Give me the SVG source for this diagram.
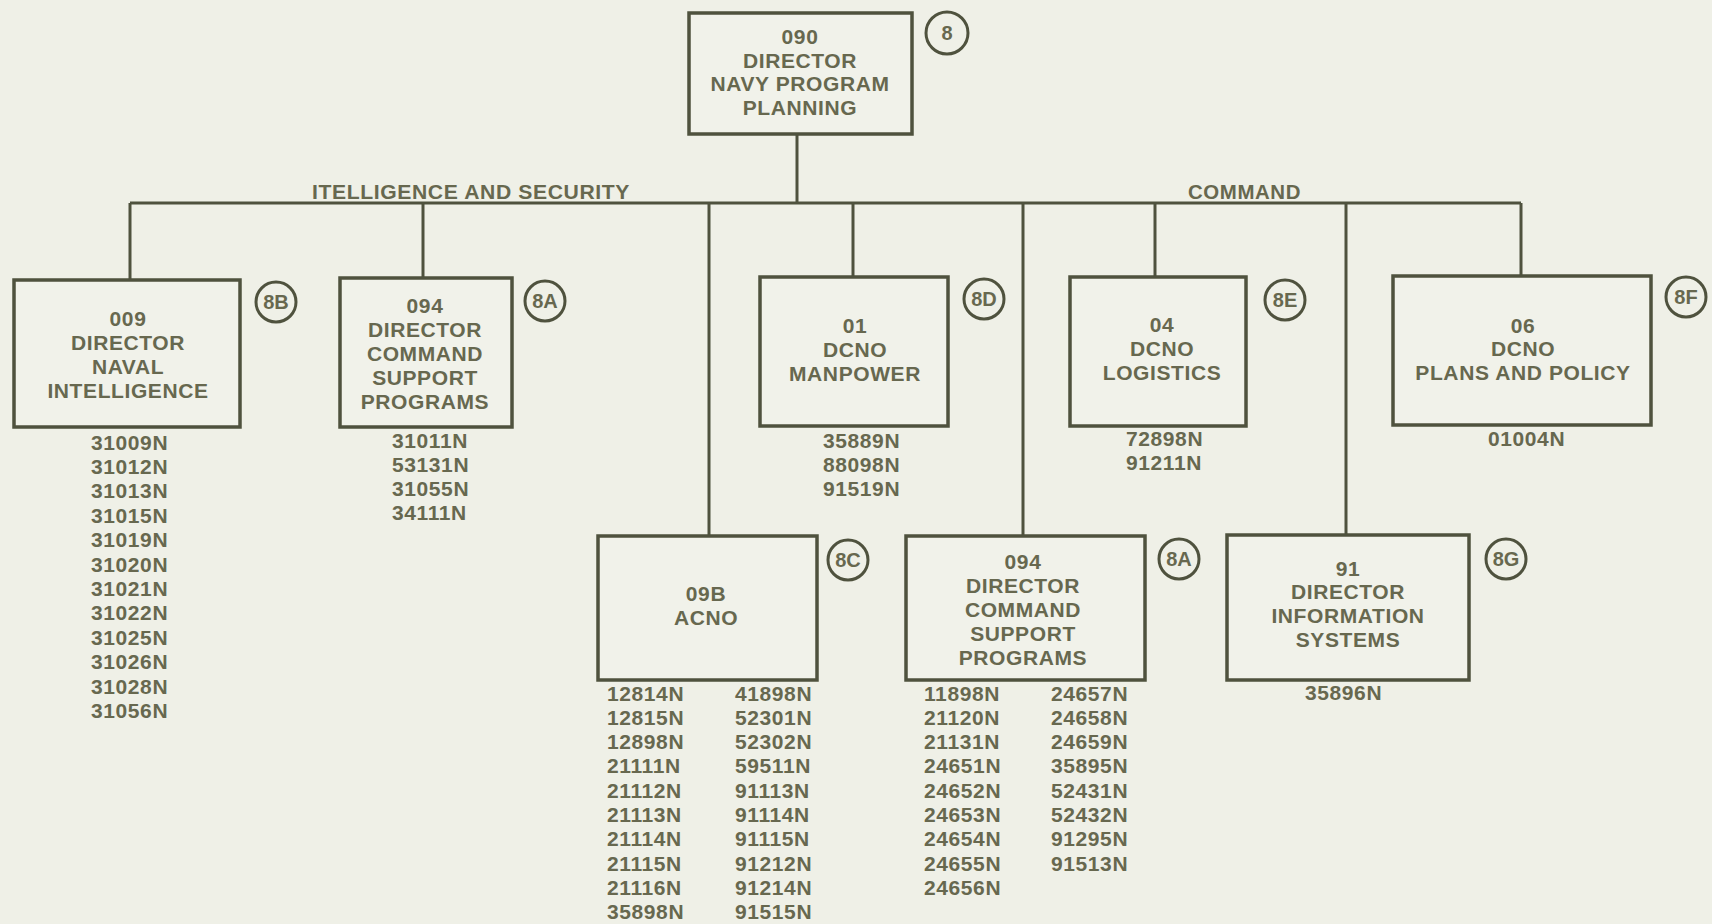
<svg xmlns="http://www.w3.org/2000/svg" width="1712" height="924" viewBox="0 0 1712 924">
<style>
.bg{fill:#eff0e7}
.box{fill:#f1f2ea;stroke:#4f523e;stroke-width:3.5}
.circ{fill:none;stroke:#4f523e;stroke-width:3}
.ln{stroke:#4f523e;stroke-width:3;fill:none}
text{font-family:"Liberation Sans",Arial,sans-serif;font-weight:bold;font-size:21px;fill:#67684f;letter-spacing:0.6px}
.c{text-anchor:middle}
.cl{font-size:20px;letter-spacing:0}
</style>
<rect class="bg" x="0" y="0" width="1712" height="924"/>
<g id="connectors">
<line class="ln" x1="797" y1="134" x2="797" y2="203"/>
<line class="ln" x1="130" y1="203" x2="1521" y2="203"/>
<line class="ln" x1="130" y1="203" x2="130" y2="280"/>
<line class="ln" x1="423" y1="203" x2="423" y2="278"/>
<line class="ln" x1="709" y1="203" x2="709" y2="536"/>
<line class="ln" x1="853" y1="203" x2="853" y2="277"/>
<line class="ln" x1="1023" y1="203" x2="1023" y2="536"/>
<line class="ln" x1="1155" y1="203" x2="1155" y2="277"/>
<line class="ln" x1="1346" y1="203" x2="1346" y2="535"/>
<line class="ln" x1="1521" y1="203" x2="1521" y2="276"/>
<text x="312" y="199" textLength="318" lengthAdjust="spacingAndGlyphs">ITELLIGENCE AND SECURITY</text>
<text x="1188" y="199" textLength="113" lengthAdjust="spacingAndGlyphs">COMMAND</text>
</g>
<g id="n090">
<rect class="box" x="689" y="13" width="223" height="121"/>
<text class="c" x="800" y="44">090</text>
<text class="c" x="800" y="67.5">DIRECTOR</text>
<text class="c" x="800" y="91">NAVY PROGRAM</text>
<text class="c" x="800" y="114.5">PLANNING</text>
<circle class="circ" cx="947" cy="33" r="21"/>
<text class="c cl" x="947" y="40">8</text>
</g>
<g id="n009">
<rect class="box" x="14" y="280" width="226" height="147"/>
<text class="c" x="128" y="325.5">009</text>
<text class="c" x="128" y="349.5">DIRECTOR</text>
<text class="c" x="128" y="373.5">NAVAL</text>
<text class="c" x="128" y="397.5">INTELLIGENCE</text>
<circle class="circ" cx="276" cy="302" r="20"/>
<text class="c cl" x="276" y="309">8B</text>
<text x="91" y="449.5">31009N</text>
<text x="91" y="473.9">31012N</text>
<text x="91" y="498.3">31013N</text>
<text x="91" y="522.7">31015N</text>
<text x="91" y="547.1">31019N</text>
<text x="91" y="571.5">31020N</text>
<text x="91" y="595.9">31021N</text>
<text x="91" y="620.3">31022N</text>
<text x="91" y="644.7">31025N</text>
<text x="91" y="669.1">31026N</text>
<text x="91" y="693.5">31028N</text>
<text x="91" y="717.9">31056N</text>
</g>
<g id="n094a">
<rect class="box" x="340" y="278" width="172" height="149"/>
<text class="c" x="425" y="312.5">094</text>
<text class="c" x="425" y="336.5">DIRECTOR</text>
<text class="c" x="425" y="360.5">COMMAND</text>
<text class="c" x="425" y="384.5">SUPPORT</text>
<text class="c" x="425" y="408.5">PROGRAMS</text>
<circle class="circ" cx="545" cy="301" r="20"/>
<text class="c cl" x="545" y="308">8A</text>
<text x="392" y="447.5">31011N</text>
<text x="392" y="471.8">53131N</text>
<text x="392" y="496.1">31055N</text>
<text x="392" y="520.4">34111N</text>
</g>
<g id="n01">
<rect class="box" x="760" y="277" width="188" height="149"/>
<text class="c" x="855" y="332.5">01</text>
<text class="c" x="855" y="356.5">DCNO</text>
<text class="c" x="855" y="380.5">MANPOWER</text>
<circle class="circ" cx="984" cy="299" r="20"/>
<text class="c cl" x="984" y="306">8D</text>
<text x="823" y="447.5">35889N</text>
<text x="823" y="471.8">88098N</text>
<text x="823" y="496.1">91519N</text>
</g>
<g id="n04">
<rect class="box" x="1070" y="277" width="176" height="149"/>
<text class="c" x="1162" y="331.5">04</text>
<text class="c" x="1162" y="355.5">DCNO</text>
<text class="c" x="1162" y="379.5">LOGISTICS</text>
<circle class="circ" cx="1285" cy="300" r="20"/>
<text class="c cl" x="1285" y="307">8E</text>
<text x="1126" y="445.5">72898N</text>
<text x="1126" y="469.8">91211N</text>
</g>
<g id="n06">
<rect class="box" x="1393" y="276" width="258" height="149"/>
<text class="c" x="1523" y="332.5">06</text>
<text class="c" x="1523" y="355.5">DCNO</text>
<text class="c" x="1523" y="379.5">PLANS AND POLICY</text>
<circle class="circ" cx="1686" cy="297" r="20"/>
<text class="c cl" x="1686" y="304">8F</text>
<text x="1488" y="445.5">01004N</text>
</g>
<g id="n09b">
<rect class="box" x="598" y="536" width="219" height="144"/>
<text class="c" x="706" y="600.5">09B</text>
<text class="c" x="706" y="624.5">ACNO</text>
<circle class="circ" cx="848" cy="560" r="20"/>
<text class="c cl" x="848" y="567">8C</text>
<text x="607" y="700.5">12814N</text>
<text x="607" y="724.8">12815N</text>
<text x="607" y="749.1">12898N</text>
<text x="607" y="773.4">21111N</text>
<text x="607" y="797.7">21112N</text>
<text x="607" y="822">21113N</text>
<text x="607" y="846.3">21114N</text>
<text x="607" y="870.6">21115N</text>
<text x="607" y="894.9">21116N</text>
<text x="607" y="919.2">35898N</text>
<text x="735" y="700.5">41898N</text>
<text x="735" y="724.8">52301N</text>
<text x="735" y="749.1">52302N</text>
<text x="735" y="773.4">59511N</text>
<text x="735" y="797.7">91113N</text>
<text x="735" y="822">91114N</text>
<text x="735" y="846.3">91115N</text>
<text x="735" y="870.6">91212N</text>
<text x="735" y="894.9">91214N</text>
<text x="735" y="919.2">91515N</text>
</g>
<g id="n094b">
<rect class="box" x="906" y="536" width="239" height="144"/>
<text class="c" x="1023" y="568.5">094</text>
<text class="c" x="1023" y="592.5">DIRECTOR</text>
<text class="c" x="1023" y="616.5">COMMAND</text>
<text class="c" x="1023" y="640.5">SUPPORT</text>
<text class="c" x="1023" y="664.5">PROGRAMS</text>
<circle class="circ" cx="1179" cy="559" r="20"/>
<text class="c cl" x="1179" y="566">8A</text>
<text x="924" y="700.5">11898N</text>
<text x="924" y="724.8">21120N</text>
<text x="924" y="749.1">21131N</text>
<text x="924" y="773.4">24651N</text>
<text x="924" y="797.7">24652N</text>
<text x="924" y="822">24653N</text>
<text x="924" y="846.3">24654N</text>
<text x="924" y="870.6">24655N</text>
<text x="924" y="894.9">24656N</text>
<text x="1051" y="700.5">24657N</text>
<text x="1051" y="724.8">24658N</text>
<text x="1051" y="749.1">24659N</text>
<text x="1051" y="773.4">35895N</text>
<text x="1051" y="797.7">52431N</text>
<text x="1051" y="822">52432N</text>
<text x="1051" y="846.3">91295N</text>
<text x="1051" y="870.6">91513N</text>
</g>
<g id="n91">
<rect class="box" x="1227" y="535" width="242" height="145"/>
<text class="c" x="1348" y="575.5">91</text>
<text class="c" x="1348" y="598.5">DIRECTOR</text>
<text class="c" x="1348" y="622.5">INFORMATION</text>
<text class="c" x="1348" y="646.5">SYSTEMS</text>
<circle class="circ" cx="1506" cy="559" r="20"/>
<text class="c cl" x="1506" y="566">8G</text>
<text x="1305" y="699.5">35896N</text>
</g>
</svg>
